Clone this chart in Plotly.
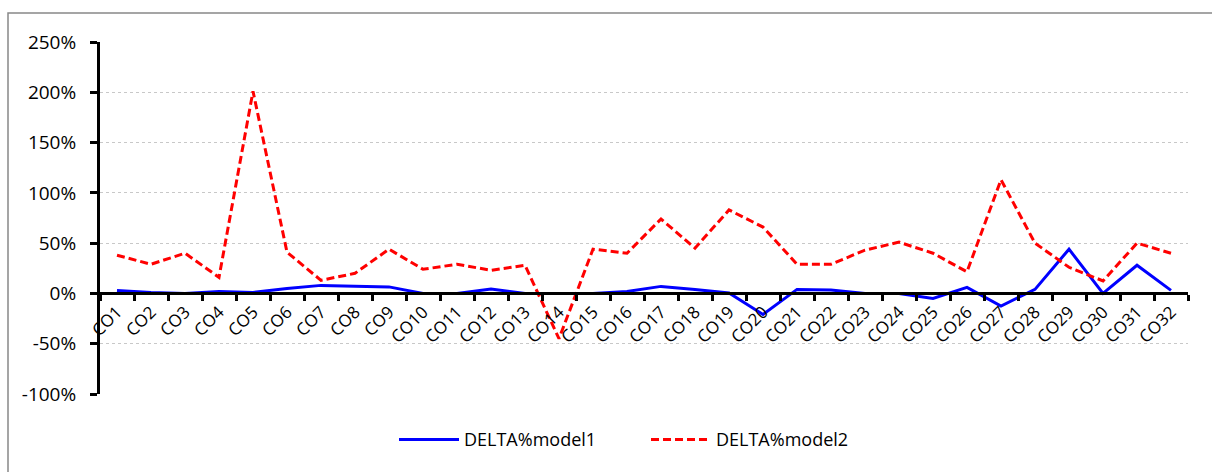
import plotly.graph_objects as go

categories = [f"CO{i}" for i in range(1, 33)]

delta_model1 = [0.03, 0.01, 0.00, 0.02, 0.01, 0.05, 0.08, 0.075, 0.065, 0.00,
                0.00, 0.045, 0.00, 0.00, 0.00, 0.02, 0.07, 0.04, 0.005, -0.21,
                0.04, 0.035, 0.00, 0.00, -0.05, 0.06, -0.125, 0.04, 0.44, 0.00,
                0.28, 0.03]

delta_model2 = [0.38, 0.29, 0.40, 0.16, 2.01, 0.41, 0.13, 0.20, 0.44, 0.24,
                0.29, 0.23, 0.28, -0.45, 0.44, 0.40, 0.74, 0.45, 0.83, 0.66,
                0.29, 0.29, 0.43, 0.51, 0.40, 0.215, 1.13, 0.50, 0.26, 0.125,
                0.50, 0.40]

y_ticks = [-1.0, -0.5, 0.0, 0.5, 1.0, 1.5, 2.0, 2.5]
y_ticktext = ["-100%", "-50%", "0%", "50%", "100%", "150%", "200%", "250%"]

FONT = "Open Sans"

fig = go.Figure()
fig.add_trace(go.Scatter(x=categories, y=delta_model1, mode="lines", name="DELTA%model1",
                         line=dict(color="#0000FF", width=3)))
fig.add_trace(go.Scatter(x=categories, y=delta_model2, mode="lines", name="DELTA%model2",
                         line=dict(color="#FF0000", width=3, dash="8px,4px")))

y_min, y_max = -1.0, 2.5
zero_pos = (0 - y_min) / (y_max - y_min)

fig.update_layout(
    width=1212, height=472,
    margin=dict(l=100, r=24, t=42, b=78),
    paper_bgcolor="white", plot_bgcolor="white",
    font=dict(family=FONT, size=18, color="black"),
    showlegend=True,
    legend=dict(orientation="h", x=(394 - 100) / 1088, xanchor="left", y=-0.13, yanchor="middle",
                font=dict(family=FONT, size=18), itemwidth=60, tracegroupgap=0,
                entrywidth=177, entrywidthmode="pixels"),
    xaxis=dict(
        type="category", range=[-0.5, 31.5],
        anchor="free", position=zero_pos,
        showline=True, linecolor="black", linewidth=3,
        ticks="outside", ticklen=6, tickwidth=3, tickcolor="black",
        tickson="boundaries", tickangle=-45,
        showgrid=False, zeroline=False,
        tickfont=dict(family=FONT, size=17),
    ),
    yaxis=dict(
        range=[y_min, y_max], tickvals=y_ticks, ticktext=y_ticktext,
        showline=True, linecolor="black", linewidth=3,
        ticks="outside", ticklen=7, tickwidth=3, tickcolor="black",
        ticklabelstandoff=10,
        showgrid=True, gridcolor="#c8c8c8", gridwidth=1, griddash="dot",
        zeroline=False,
        tickfont=dict(family=FONT, size=19),
    ),
    shapes=[dict(type="rect", xref="paper", yref="paper",
                 x0=(8 - 100) / 1088, x1=1.03, y0=-0.3, y1=(394 - 13) / 352,
                 line=dict(color="#888888", width=1.5), layer="below")],
)

fig.write_html("out.html", config={"displayModeBar": False},
               post_script="document.body.style.margin='0px';")
